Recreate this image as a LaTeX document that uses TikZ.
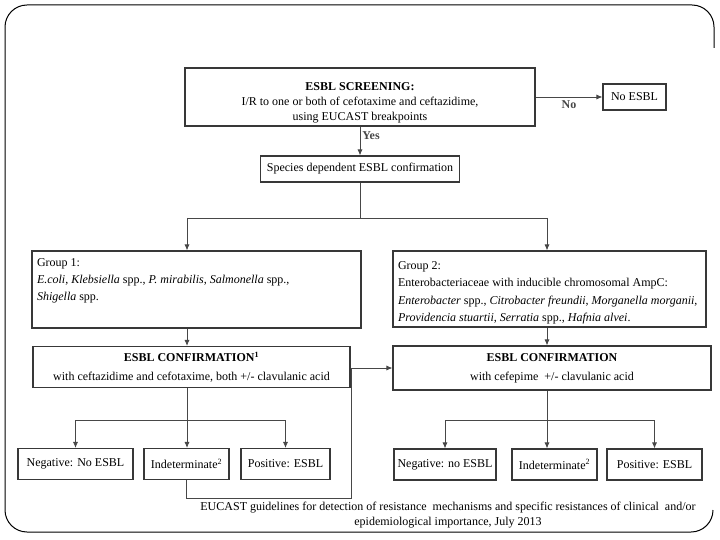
\documentclass[tikz,border=0pt]{standalone}
\usepackage{fontspec}
\setmainfont{Liberation Serif}
\usepackage{tikz}
\usetikzlibrary{arrows.meta,positioning,calc}
\newcommand{\topbox}[3]{\parbox[c][#1][t]{#2}{#3}}

\begin{document}
\begin{tikzpicture}[
    x=1pt, y=-1pt,
    box/.style={rectangle, draw=black!78, line width=1.1pt, inner sep=0pt, font=\fontsize{12}{15}\selectfont, align=center},
    result/.style={box, minimum height=31pt},
    arrow/.style={-{Latex[length=6pt,width=5pt]}, line width=0.8pt, black!72},
    link/.style={line width=0.8pt, black!72},
    tag/.style={font=\fontsize{12}{14}\selectfont\bfseries, inner sep=2pt}
]
    \useasboundingbox (0,0) rectangle (720,540);

    % Slide frame
    \draw[line width=1pt, rounded corners=22pt] (714,48) -- (714,5) -- (5,5) -- (5,532) -- (713,532) -- (713,510);

    % Screening
    \node[box] (screen) at (360,97) {\topbox{58pt}{350pt}{\centering\vspace*{15pt}%
        \textbf{ESBL SCREENING:}\\ I/R to one or both of cefotaxime and ceftazidime,\\ using EUCAST breakpoints}};
    \node[box, minimum width=63pt, minimum height=26pt] (noesbl) at (634.5,97) {No ESBL};
    \node[box, minimum width=199pt, minimum height=26pt] (spec) at (360,169) {Species dependent ESBL confirmation};

    \draw[arrow] (screen.east) -- (noesbl.west) node[tag, midway, below=1pt] {No};
    \draw[arrow] (screen.south) -- (spec.north) node[tag, pos=0.3, right] {Yes};

    % Groups
    \node[box, inner xsep=5pt] (g1) at (196.5,289.5) {\topbox{77pt}{319pt}{\raggedright\fontsize{12}{17}\selectfont\vspace*{7.5pt}%
        Group 1:\\
        \textit{E.coli}, \textit{Klebsiella} spp., \textit{P. mirabilis}, \textit{Salmonella} spp.,\\
        \textit{Shigella} spp.}};
    \node[box, inner xsep=5pt] (g2) at (549.5,289) {\topbox{76pt}{303pt}{\raggedright\fontsize{12}{17.5}\selectfont\vspace*{10.5pt}%
        Group 2:\\
        Enterobacteriaceae with inducible chromosomal AmpC:\\
        \textit{Enterobacter} spp., \textit{Citrobacter freundii}, \textit{Morganella morganii},\\
        \textit{Providencia stuartii}, \textit{Serratia} spp., \textit{Hafnia alvei}.}};

    \coordinate (lbar) at (187,218);
    \coordinate (rbar) at (547,218);
    \draw[link] (spec.south) -- (spec.south |- lbar);
    \draw[link] (lbar) -- (rbar);
    \draw[arrow] (lbar) -- (lbar |- g1.north);
    \draw[arrow] (rbar) -- (rbar |- g2.north);

    % Confirmation
    \node[box, font=\fontsize{12}{19}\selectfont, minimum width=317pt, minimum height=41pt] (c1) at (191.5,367)
        {\textbf{ESBL CONFIRMATION\textsuperscript{1}}\\ with ceftazidime and cefotaxime, both +/- clavulanic acid};
    \node[box, font=\fontsize{12}{19}\selectfont, minimum width=318pt, minimum height=44pt] (c2) at (552,368)
        {\textbf{ESBL CONFIRMATION}\\ with cefepime \ +/- clavulanic acid};

    \draw[arrow] (g1.south -| lbar) -- (lbar |- c1.north);
    \draw[arrow] (g2.south -| rbar) -- (rbar |- c2.north);

    % Results
    \node[result, minimum width=115pt] (neg1) at (75.5,464) {Negative: No ESBL};
    \node[result, minimum width=85pt] (ind1) at (186.5,464) {Indeterminate\textsuperscript{2}};
    \node[result, minimum width=89pt] (pos1) at (285.5,464) {Positive: ESBL};
    \node[result, minimum width=102pt] (neg2) at (445,464.5) {Negative: no ESBL};
    \node[result, minimum width=85pt] (ind2) at (554.5,464.5) {Indeterminate\textsuperscript{2}};
    \node[result, minimum width=95pt] (pos2) at (654.5,464.5) {Positive: ESBL};

    \coordinate (lsplit) at (187,420);
    \coordinate (rsplit) at (547,420);
    \draw[link] (c1.south -| lsplit) -- (lsplit);
    \draw[link] (neg1 |- lsplit) -- (pos1 |- lsplit);
    \draw[arrow] (neg1 |- lsplit) -- (neg1.north);
    \draw[arrow] (lsplit) -- (lsplit |- ind1.north);
    \draw[arrow] (pos1 |- lsplit) -- (pos1.north);
    \draw[link] (c2.south -| rsplit) -- (rsplit);
    \draw[link] (neg2 |- rsplit) -- (pos2 |- rsplit);
    \draw[arrow] (neg2 |- rsplit) -- (neg2.north);
    \draw[arrow] (rsplit) -- (rsplit |- ind2.north);
    \draw[arrow] (pos2 |- rsplit) -- (pos2.north);

    % Indeterminate goes back to the second test
    \coordinate (back) at (351,498);
    \draw[arrow] (ind1.south) |- (back) |- (c2.west);

    % Source
    \node[font=\fontsize{12}{15}\selectfont, align=center, inner sep=0pt] (source) at (448,515)
        {EUCAST guidelines for detection of resistance \ mechanisms and specific resistances of clinical \ and/or\\
         epidemiological importance, July 2013};
\end{tikzpicture}
\end{document}
